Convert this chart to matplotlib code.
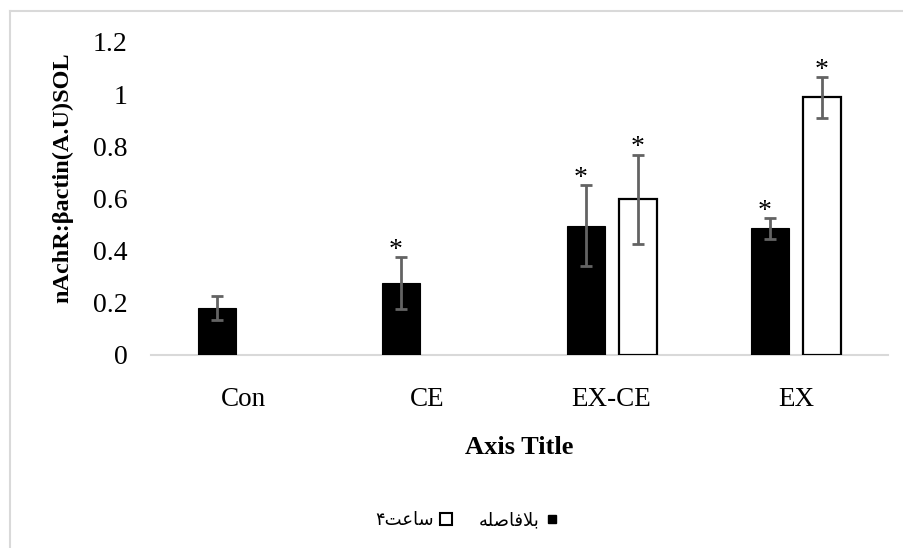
import matplotlib
matplotlib.use("Agg")
import matplotlib.pyplot as plt
from matplotlib.lines import Line2D
import numpy as np

categories = ["Con", "CE", "EX-CE", "EX"]
# series 1: immediately (black), series 2: 4 hours (white); None = no bar
immediate_vals = [0.18, 0.275, 0.495, 0.485]
immediate_err = [0.045, 0.10, 0.155, 0.04]
immediate_star = [False, True, True, True]
hours4_vals = [None, None, 0.597, 0.988]
hours4_err = [None, None, 0.17, 0.078]
hours4_star = [False, False, True, True]

# Persian labels, pre-shaped (presentation forms, visual order)
label_immediate = "\uFEEA\uFEE0\uFEBB\uFE8E\uFED3\uFEFC\uFE91"   # بلافاصله
label_4h = "\u06F4\uFE96\uFECB\uFE8E\uFEB3"                       # ۴ساعت
y_label = "nAchR:\u03B2actin(A.U)SOL"
x_title = "Axis Title"
yticks = [0, 0.2, 0.4, 0.6, 0.8, 1.0, 1.2]
ytick_labels = ["0", "0.2", "0.4", "0.6", "0.8", "1", "1.2"]

serif = ["Liberation Serif", "DejaVu Serif"]
plt.rcParams["font.family"] = serif

W, H = 904, 548
fig = plt.figure(figsize=(W / 100, H / 100), dpi=100)
ax = fig.add_axes([151 / W, 1 - 355 / H, (888 - 151) / W, (355 - 42) / H])

x = np.arange(len(categories))
bw = 0.207
off = 0.141
err_kw = dict(ecolor="#636363", elinewidth=2.0, capsize=4.5, capthick=2.0)

for i in range(len(categories)):
    v = immediate_vals[i]
    if v is not None:
        ax.bar(x[i] - off, v, bw, color="black", edgecolor="black", linewidth=0.8, zorder=2)
        ax.errorbar(x[i] - off, v, yerr=immediate_err[i], fmt="none", zorder=3, **err_kw)
        if immediate_star[i]:
            ax.annotate("*", xy=(x[i] - off, v + immediate_err[i]), xytext=(-4, -4),
                        textcoords="offset points", ha="center", va="bottom",
                        fontsize=20, family=serif, zorder=4)
    v = hours4_vals[i]
    if v is not None:
        ax.bar(x[i] + off, v, bw, color="white", edgecolor="black", linewidth=1.6, zorder=2)
        ax.errorbar(x[i] + off, v, yerr=hours4_err[i], fmt="none", zorder=3, **err_kw)
        if hours4_star[i]:
            ax.annotate("*", xy=(x[i] + off, v + hours4_err[i]), xytext=(0, -4),
                        textcoords="offset points", ha="center", va="bottom",
                        fontsize=20, family=serif, zorder=4)

ax.set_xlim(-0.5, len(categories) - 0.5)
ax.set_ylim(0, 1.2)
ax.set_yticks(yticks)
ax.set_yticklabels(ytick_labels)
ax.set_xticks(x)
ax.set_xticklabels(categories)
ax.tick_params(axis="y", length=0, pad=17, labelsize=20)
ax.tick_params(axis="x", length=0, pad=23, labelsize=19.5)
for s in ["top", "right", "left"]:
    ax.spines[s].set_visible(False)
ax.spines["bottom"].set_color("#d9d9d9")
ax.spines["bottom"].set_linewidth(1.5)
ax.spines["bottom"].set_zorder(1)

fig.text(63 / W, 1 - 178 / H, y_label, rotation=90, ha="center", va="center",
         fontsize=17.5, fontweight="bold", family=serif)
fig.text(519 / W, 1 - 448 / H, x_title, ha="center", va="center",
         fontsize=19, fontweight="bold", family=serif)

h_black = Line2D([], [], linestyle="none", marker="s", markersize=6,
                 markerfacecolor="black", markeredgecolor="black")
h_white = Line2D([], [], linestyle="none", marker="s", markersize=9,
                 markerfacecolor="white", markeredgecolor="black", markeredgewidth=1.5)
leg = fig.legend([h_white, h_black], [label_4h, label_immediate], loc="center",
                 bbox_to_anchor=(467 / W, 1 - 520 / H), ncol=2, frameon=False,
                 markerfirst=False, handlelength=0.8, handletextpad=0.3,
                 columnspacing=1.4, prop={"family": ["DejaVu Sans"], "size": 13})

# outer chart border (top & left visible)
fig.add_artist(Line2D([9.5 / W, 9.5 / W], [0, 1 - 11 / H], transform=fig.transFigure,
                      color="#d9d9d9", linewidth=1.5))
fig.add_artist(Line2D([9.5 / W, 1], [1 - 11 / H, 1 - 11 / H], transform=fig.transFigure,
                      color="#d9d9d9", linewidth=1.5))

fig.savefig("out.png", dpi=100, facecolor="white")
